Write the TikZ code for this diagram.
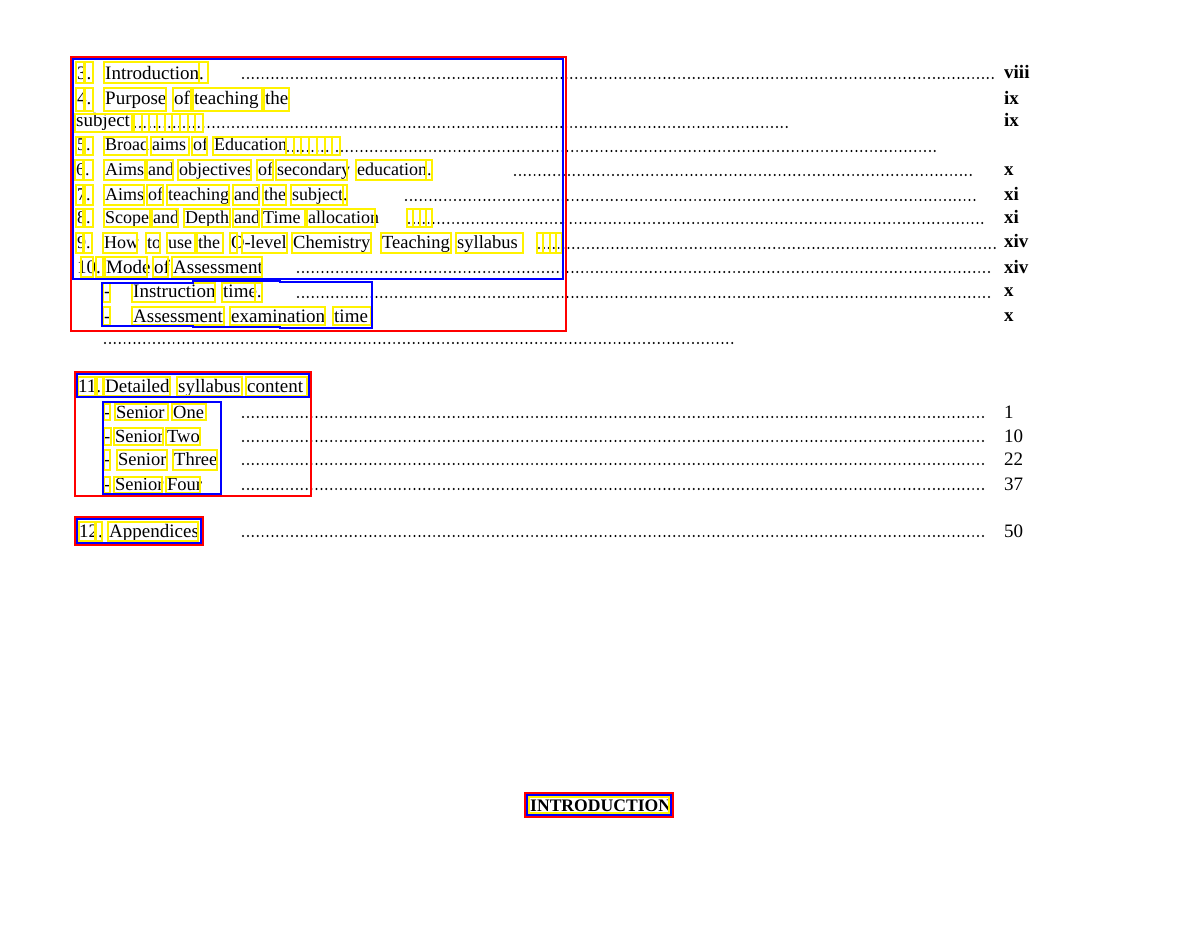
\documentclass[tikz,border=0pt]{standalone}
\usepackage{fontspec}
\setmainfont{Liberation Serif}
\newcounter{nc}
\tikzset{
  ybx/.style={draw=yellow, line width=2pt},
  bbx/.style={draw=blue, line width=2pt},
  rbx/.style={draw=red, line width=2pt},
  txt/.style={anchor=base west, inner sep=0pt, font=\fontsize{19}{22}\selectfont},
  txs/.style={anchor=base west, inner sep=0pt, font=\fontsize{18}{22}\selectfont},
  txm/.style={anchor=base west, inner sep=0pt, font=\fontsize{18.5}{22}\selectfont},
  pgn/.style={anchor=base west, inner sep=0pt, font=\fontsize{19}{22}\selectfont\bfseries},
  pgr/.style={anchor=base west, inner sep=0pt, font=\fontsize{19}{22}\selectfont},
  dotl/.style={line width=2.2pt, line cap=round, dash pattern=on 0pt off 4.9pt},
}
\newcommand\tx[3]{\stepcounter{nc}\node[txt] (t\arabic{nc}) at (#1,#2) {#3};}
\newcommand\ts[3]{\stepcounter{nc}\node[txs] (t\arabic{nc}) at (#1,#2) {#3};}
\newcommand\tm[3]{\stepcounter{nc}\node[txm] (t\arabic{nc}) at (#1,#2) {#3};}
\newcommand\pg[3]{\stepcounter{nc}\node[pgn] (p\arabic{nc}) at (#1,#2) {#3};}
\newcommand\pr[3]{\stepcounter{nc}\node[pgr] (p\arabic{nc}) at (#1,#2) {#3};}
\newcommand\dl[3]{\draw[dotl] (#1,#3) -- (#2,#3);}
\newcommand\ybox[4]{\draw[ybx] (#1,#3) rectangle (#2,#4);}
\newcommand\ydots[5]{%
  \pgfmathsetmacro\ydw{(#2-#1)/#3}%
  \foreach \i in {1,...,#3}{\draw[ybx] ({#1+(\i-1)*\ydw},#4) rectangle ({#1+\i*\ydw},#5);}}
\begin{document}
\begin{tikzpicture}[x=1pt,y=-1pt]
\useasboundingbox (0,0) rectangle (1200,928);
\fill[white] (0,0) rectangle (1200,928);
% ---------------- texts ----------------
% line 3
\tx{77}{80}{3.}\tx{105}{80}{Introduction.}\pg{1004}{79}{viii}
\dl{243}{997}{78}
% line 4
\tx{77}{105}{4.}\tx{105}{105}{Purpose}\tx{174}{105}{of}\tx{194}{105}{teaching}\tx{265}{105}{the}
\pg{1004}{105}{ix}
% subject
\tx{76}{127}{subject}\dl{135}{790}{127}\pg{1004}{127}{ix}
% line 5
\ts{77}{151}{5.}\ts{105}{151}{Broad}\ts{152}{151}{aims}\ts{193}{151}{of}\ts{214}{151}{Education}
\dl{288}{937}{151}
% line 6
\ts{76}{176}{6.}\ts{105}{176}{Aims}\ts{148}{176}{and}\ts{179}{176}{objectives}\ts{258}{176}{of}
\ts{277}{176}{secondary}\ts{357}{176}{education.}
\dl{515}{973}{175}\pg{1004}{176}{x}
% line 7
\ts{77}{201}{7.}\ts{105}{201}{Aims}\ts{148}{201}{of}\ts{168}{201}{teaching}\ts{234}{201}{and}
\ts{264}{201}{the}\ts{292}{201}{subject.}
\dl{406}{978}{200}\pg{1004}{201}{xi}
% line 8
\ts{77}{224}{8.}\ts{105}{224}{Scope}\ts{153}{224}{and}\ts{185}{224}{Depth}\ts{234}{224}{and}
\ts{263}{224}{Time}\ts{308}{224}{allocation}
\dl{409}{983}{223}\pg{1004}{224}{xi}
% line 9
\ts{77}{249}{9.}\ts{104}{249}{How}\ts{147}{249}{to}\ts{168}{249}{use}\ts{198}{249}{the}
\tm{231}{249}{O-level}\tm{293}{249}{Chemistry}\tm{382}{249}{Teaching}\tm{457}{249}{syllabus}
\dl{539}{997}{248}\pg{1004}{248}{xiv}
% line 10
\tx{77}{273}{10.}\tx{106}{273}{Mode}\tx{154}{273}{of}\tx{173}{273}{Assessment}
\dl{298}{993}{272}\pg{1004}{273}{xiv}
% instruction
\tx{104}{298}{-}\tx{133}{298}{Instruction}\tx{223}{298}{time.}
\dl{298}{993}{297}\pg{1004}{297}{x}
% assessment
\tx{104}{322}{-}\tx{133}{322}{Assessment}\tx{231}{322}{examination}\tx{334}{322}{time}
\pg{1004}{321}{x}
\dl{105}{737}{343}
% line 11
\tx{78}{392}{11.}\tx{105}{392}{Detailed}\tx{178}{392}{syllabus}\tx{247}{392}{content}
% seniors
\tm{104}{418}{-}\tm{116}{418}{Senior}\tm{173}{418}{One}\dl{243}{987}{417}\pr{1004}{418}{1}
\tm{104}{442}{-}\tm{115}{442}{Senior}\tm{167}{442}{Two}\dl{243}{987}{441}\pr{1004}{442}{10}
\tm{104}{465}{-}\tm{118}{465}{Senior}\tm{174}{465}{Three}\dl{243}{987}{464}\pr{1004}{465}{22}
\tm{104}{490}{-}\tm{115}{490}{Senior}\tm{167}{490}{Four}\dl{243}{987}{489}\pr{1004}{490}{37}
% line 12
\tx{79}{537}{12.}\tx{109}{537}{Appendices}\dl{243}{987}{536}\pr{1004}{537}{50}
% INTRODUCTION
\begin{scope}
\clip (529,790) rectangle (669,820);
\stepcounter{nc}\node[anchor=base west, inner sep=0pt, font=\fontsize{17.6}{22}\selectfont\bfseries] (intro) at (530,811) {INTRODUCTION};
\end{scope}
% ---------------- yellow boxes ----------------
% line 3
\ybox{76}{84}{62}{83}\ybox{85}{93}{62}{83}\ybox{104}{199}{62}{83}\ybox{199}{208}{62}{83}
% line 4
\ybox{76}{84}{88}{111}\ybox{85}{93}{88}{111}\ybox{104}{166}{88}{111}\ybox{173}{191}{88}{111}
\ybox{193}{262}{88}{111}\ybox{264}{289}{88}{111}
% subject
\ybox{75}{132}{114}{132}\ydots{134}{203}{9}{114}{132}
% line 5
\ybox{76}{83}{137}{155}\ybox{85}{93}{137}{155}\ybox{104}{147}{137}{155}\ybox{151}{189}{137}{155}
\ybox{192}{207}{137}{155}\ybox{213}{286}{137}{155}\ydots{286}{340}{7}{137}{155}
% line 6
\ybox{75}{83}{160}{180}\ybox{84}{93}{160}{180}\ybox{104}{145}{160}{180}\ybox{147}{173}{160}{180}
\ybox{178}{251}{160}{180}\ybox{257}{273}{160}{180}\ybox{276}{347}{160}{180}\ybox{356}{426}{160}{180}
\ybox{426}{432}{160}{180}
% line 7
\ybox{76}{83}{185}{205}\ybox{85}{93}{185}{205}\ybox{104}{144}{185}{205}\ybox{147}{163}{185}{205}
\ybox{167}{229}{185}{205}\ybox{233}{259}{185}{205}\ybox{263}{286}{185}{205}\ybox{291}{343}{185}{205}
\ybox{343}{347}{185}{205}
% line 8
\ybox{76}{83}{209}{227}\ybox{85}{93}{209}{227}\ybox{104}{150}{209}{227}\ybox{152}{178}{209}{227}
\ybox{184}{230}{209}{227}\ybox{233}{259}{209}{227}\ybox{262}{305}{209}{227}\ybox{307}{375}{209}{227}
\ydots{407}{432}{4}{209}{227}
% line 9
\ybox{76}{83}{233}{253}\ybox{84}{92}{233}{253}\ybox{103}{137}{233}{253}\ybox{146}{160}{233}{253}
\ybox{167}{195}{233}{253}\ybox{197}{223}{233}{253}\ybox{230}{237}{233}{253}\ybox{242}{287}{233}{253}
\ybox{292}{371}{233}{253}\ybox{381}{451}{233}{253}\ybox{456}{523}{233}{253}\ydots{537}{562}{4}{233}{253}
% line 10
\ybox{81}{93}{257}{277}\ybox{96}{103}{257}{277}\ybox{105}{147}{257}{277}\ybox{153}{168}{257}{277}
\ybox{172}{262}{257}{277}
% instruction
\ybox{103}{110}{283}{302}\ybox{132}{215}{283}{302}\ybox{222}{255}{283}{302}\ybox{255}{262}{283}{302}
% assessment
\ybox{103}{110}{307}{325}\ybox{132}{224}{307}{325}\ybox{230}{325}{307}{325}\ybox{333}{371}{307}{325}
% line 11
\ybox{78}{95}{377}{396}\ybox{97}{103}{377}{396}\ybox{104}{170}{377}{396}\ybox{177}{242}{377}{396}
\ybox{246}{307}{377}{396}
% seniors
\ybox{104}{110}{404}{420}\ybox{115}{168}{404}{420}\ybox{172}{206}{404}{420}
\ybox{104}{111}{428}{445}\ybox{114}{163}{428}{445}\ybox{166}{200}{428}{445}
\ybox{104}{110}{450}{470}\ybox{117}{167}{450}{470}\ybox{173}{217}{450}{470}
\ybox{104}{110}{477}{493}\ybox{114}{162}{477}{493}\ybox{166}{200}{477}{493}
% line 12
\ybox{79}{95}{522}{541}\ybox{96}{102}{522}{541}\ybox{108}{198}{522}{541}
% intro
\ybox{529}{669}{797}{813}
% ---------------- blue boxes ----------------
\draw[bbx] (73,59) rectangle (563,279);
\draw[bbx] (102,283) -- (193,283) -- (193,281) -- (280,281) -- (280,282) -- (372,282)
  -- (372,328) -- (280,328) -- (280,327) -- (193,327) -- (193,326) -- (102,326) -- cycle;
\draw[bbx] (77,374) rectangle (309,397);
\draw[bbx] (103,402) rectangle (221,494);
\draw[bbx] (77,519) rectangle (201,543);
\draw[bbx] (527,795) rectangle (671,815);
% ---------------- red boxes ----------------
\draw[rbx] (71,57) rectangle (566,331);
\draw[rbx] (75,372) rectangle (311,496);
\draw[rbx] (75,517) rectangle (203,545);
\draw[rbx] (525,793) rectangle (673,817);
\end{tikzpicture}
\end{document}
